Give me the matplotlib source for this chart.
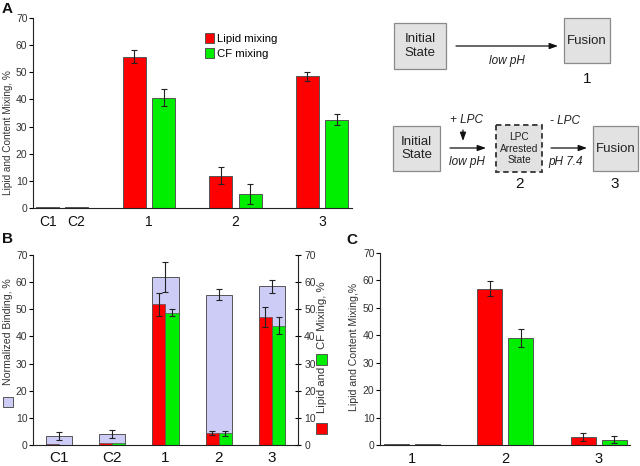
import matplotlib
matplotlib.use("Agg")
import matplotlib.pyplot as plt
import numpy as np
from matplotlib.patches import Rectangle

plt.rcParams['font.family'] = ['Liberation Sans', 'DejaVu Sans']

# ---------------- data ----------------
# Panel A
a_categories = ["C1", "C2", "1", "2", "3"]
a_lipid = [0.3, 0.3, 55.8, 11.9, 48.5]
a_lipid_err = [0, 0, 2.3, 3.1, 1.6]
a_cf = [np.nan, np.nan, 40.7, 5.3, 32.5]
a_cf_err = [0, 0, 3.0, 3.7, 2.0]

# Panel B
b_categories = ["C1", "C2", "1", "2", "3"]
b_binding = [3.3, 4.0, 62.0, 55.4, 58.4]
b_binding_err = [1.4, 1.6, 5.6, 2.1, 2.3]
b_lipid = [0.5, 0.8, 51.8, 4.5, 47.0]
b_lipid_err = [0, 0, 4.2, 0.7, 3.7]
b_cf = [0.0, 0.8, 48.8, 4.3, 43.9]
b_cf_err = [0, 0, 1.3, 0.9, 3.1]

# Panel C
c_categories = ["1", "2", "3"]
c_lipid = [0.5, 57.0, 2.9]
c_lipid_err = [0, 2.7, 1.6]
c_cf = [0.5, 39.1, 1.9]
c_cf_err = [0, 3.2, 1.2]

RED = "#ff0000"
GREEN = "#00ee00"
LIGHT = "#ccccf7"
EDGE = "#555555"
TXT = "#333333"

W, H = 640, 466
fig = plt.figure(figsize=(W / 100, H / 100), dpi=100)


def px_axes(l, t, r, b):
    return fig.add_axes([l / W, 1 - b / H, (r - l) / W, (b - t) / H])


def style_axis(ax, right=False):
    for s in ["top", "right"]:
        ax.spines[s].set_visible(False)
    ax.spines["left"].set_color("#222222")
    ax.spines["bottom"].set_color("#222222")
    ax.set_ylim(0, 70)
    ax.set_yticks(range(0, 71, 10))
    ax.tick_params(axis="y", length=3, width=0.8, labelsize=7.5, labelcolor=TXT, pad=1)
    ax.tick_params(axis="x", length=0, labelsize=10.5, labelcolor="#111111", pad=5)


err_kw = dict(ecolor="#222222", elinewidth=0.8, capsize=2.5, capthick=0.8)

# ---------------- Panel A ----------------
axA = px_axes(33, 18, 352, 208)
style_axis(axA)
a_pos = np.array([-0.17, 0.16, 1.0, 2.0, 3.0])
bw = 0.266
off = np.array([0, 0, -0.168, -0.168, -0.168])
axA.bar(a_pos + off, a_lipid, bw, color=RED, edgecolor=EDGE, linewidth=0.7,
        label="Lipid mixing")
axA.errorbar((a_pos + off)[2:], a_lipid[2:], yerr=a_lipid_err[2:], fmt="none", **err_kw)
axA.bar(a_pos[2:] + 0.168, a_cf[2:], bw, color=GREEN, edgecolor=EDGE, linewidth=0.7,
        label="CF mixing")
axA.errorbar(a_pos[2:] + 0.168, a_cf[2:], yerr=a_cf_err[2:], fmt="none", **err_kw)
axA.set_xlim(-0.341, 3.347)
axA.set_xticks(a_pos)
axA.set_xticklabels(a_categories)
axA.tick_params(axis="x", labelsize=10)
axA.set_ylabel("Lipid and Content Mixing, %", fontsize=7.2, color=TXT)
axA.yaxis.set_label_coords(-0.064, 0.395)
axA.legend(loc="upper left", bbox_to_anchor=(0.525, 0.945), frameon=False,
           fontsize=8.2, handlelength=0.75, handleheight=1.0, handletextpad=0.3,
           labelspacing=0.35, borderaxespad=0)

# ---------------- Panel B ----------------
axB = px_axes(33, 255, 298, 445)
style_axis(axB)
b_pos = np.arange(len(b_categories))
wb = 0.49
axB.bar(b_pos, b_binding, wb, color=LIGHT, edgecolor=EDGE, linewidth=0.7)
axB.errorbar(b_pos, b_binding, yerr=b_binding_err, fmt="none", **err_kw)
axB.bar(b_pos - wb / 4, b_lipid, wb / 2, color=RED, edgecolor=EDGE, linewidth=0.5)
axB.errorbar((b_pos - wb / 4)[2:], b_lipid[2:], yerr=b_lipid_err[2:], fmt="none", **err_kw)
axB.bar(b_pos + wb / 4, b_cf, wb / 2, color=GREEN, edgecolor=EDGE, linewidth=0.5)
axB.errorbar((b_pos + wb / 4)[2:], b_cf[2:], yerr=b_cf_err[2:], fmt="none", **err_kw)
axB.set_xlim(-0.488, 4.488)
axB.set_xticks(b_pos)
axB.set_xticklabels(b_categories)
axB.tick_params(axis="x", labelsize=11, pad=4)
axB2 = axB.twinx()
axB2.set_ylim(0, 70)
axB2.set_yticks(range(0, 71, 10))
for s in ["top", "left", "bottom"]:
    axB2.spines[s].set_visible(False)
axB2.spines["right"].set_color("#222222")
axB2.tick_params(axis="y", direction="inout", length=5, width=0.8, labelsize=7.5,
                 labelcolor=TXT, pad=2)

# ---------------- Panel C ----------------
axC = px_axes(380, 253, 630, 445)
style_axis(axC)
c_pos = np.arange(len(c_categories))
bwc = 0.268
axC.bar(c_pos - 0.166, c_lipid, bwc, color=RED, edgecolor=EDGE, linewidth=0.7)
axC.errorbar((c_pos - 0.166)[1:], c_lipid[1:], yerr=c_lipid_err[1:], fmt="none", **err_kw)
axC.bar(c_pos + 0.166, c_cf, bwc, color=GREEN, edgecolor=EDGE, linewidth=0.7)
axC.errorbar((c_pos + 0.166)[1:], c_cf[1:], yerr=c_cf_err[1:], fmt="none", **err_kw)
axC.set_xlim(-0.343, 2.336)
axC.set_xticks(c_pos)
axC.set_xticklabels(c_categories)
axC.tick_params(axis="x", labelsize=10.5, pad=5)
axC.set_ylabel("Lipid and Content Mixing,%", fontsize=7.6, color=TXT)
axC.yaxis.set_label_coords(-0.084, 0.51)

# ---------------- overlay (diagram, labels) ----------------
ov = fig.add_axes([0, 0, 1, 1], zorder=-1)
ov.set_xlim(0, W)
ov.set_ylim(H, 0)
ov.axis("off")

# panel letters
for lab, x, y in [("A", 2, 9), ("B", 2, 239), ("C", 346, 240)]:
    ov.text(x, y, lab, fontsize=11, fontweight="bold", va="center", ha="left", color="#111111")

# Panel B axis labels with swatches
ov.text(8, 332, "Normalized Binding, %", rotation=90, fontsize=7.6, color=TXT,
        ha="center", va="center")
ov.add_patch(Rectangle((3, 397), 10, 10, facecolor=LIGHT, edgecolor=EDGE, lw=0.7))
ov.text(322, 390, "Lipid and", rotation=90, fontsize=8.2, color=TXT, ha="center", va="center")
ov.text(322, 315, "CF Mixing, %", rotation=90, fontsize=8.2, color=TXT, ha="center", va="center")
ov.add_patch(Rectangle((316, 423), 11, 11, facecolor=RED, edgecolor=EDGE, lw=0.7))
ov.add_patch(Rectangle((316, 354), 11, 11, facecolor=GREEN, edgecolor=EDGE, lw=0.7))

# diagram
BOX = "#e2e2e2"
BOXE = "#8a8a8a"


def box(x0, y0, x1, y1, text, fs=9, dashed=False):
    ov.add_patch(Rectangle((x0, y0), x1 - x0, y1 - y0, facecolor=BOX,
                           edgecolor="#333333" if dashed else BOXE,
                           lw=1.3 if dashed else 0.9,
                           linestyle=(0, (3, 2)) if dashed else "-"))
    ov.text((x0 + x1) / 2, (y0 + y1) / 2, text, fontsize=fs, ha="center", va="center",
            color="#222222", linespacing=1.15)


def arrow(x0, y0, x1, y1):
    ov.annotate("", xy=(x1, y1), xytext=(x0, y0),
                arrowprops=dict(arrowstyle="-|>,head_length=0.5,head_width=0.18",
                                color="#111111", lw=0.9, shrinkA=0, shrinkB=0))


box(394, 23, 446, 69, "Initial\nState", fs=9.5)
box(564, 18, 610, 63, "Fusion", fs=9.5)
arrow(456, 46, 558, 46)
ov.text(507, 61, "low pH", fontsize=8.5, style="italic", ha="center", va="center", color="#222222")
ov.text(587, 79, "1", fontsize=11, ha="center", va="center", color="#111111")

box(393, 126, 440, 171, "Initial\nState", fs=9.5)
ov.text(467, 120, "+ LPC", fontsize=8.5, style="italic", ha="center", va="center", color="#222222")
arrow(463, 130, 463, 141)
arrow(450, 148, 486, 148)
ov.text(467, 162, "low pH", fontsize=8.5, style="italic", ha="center", va="center", color="#222222")
box(496, 125, 542, 172, "LPC\nArrested\nState", fs=7.3, dashed=True)
ov.text(519, 184, "2", fontsize=11, ha="center", va="center", color="#111111")
ov.text(565, 121, "- LPC", fontsize=8.5, style="italic", ha="center", va="center", color="#222222")
arrow(551, 148, 587, 148)
ov.text(566, 162, "pH 7.4", fontsize=8.5, style="italic", ha="center", va="center", color="#222222")
box(593, 126, 638, 171, "Fusion", fs=9.5)
ov.text(615, 184, "3", fontsize=11, ha="center", va="center", color="#111111")

fig.savefig("out.png", dpi=100)
